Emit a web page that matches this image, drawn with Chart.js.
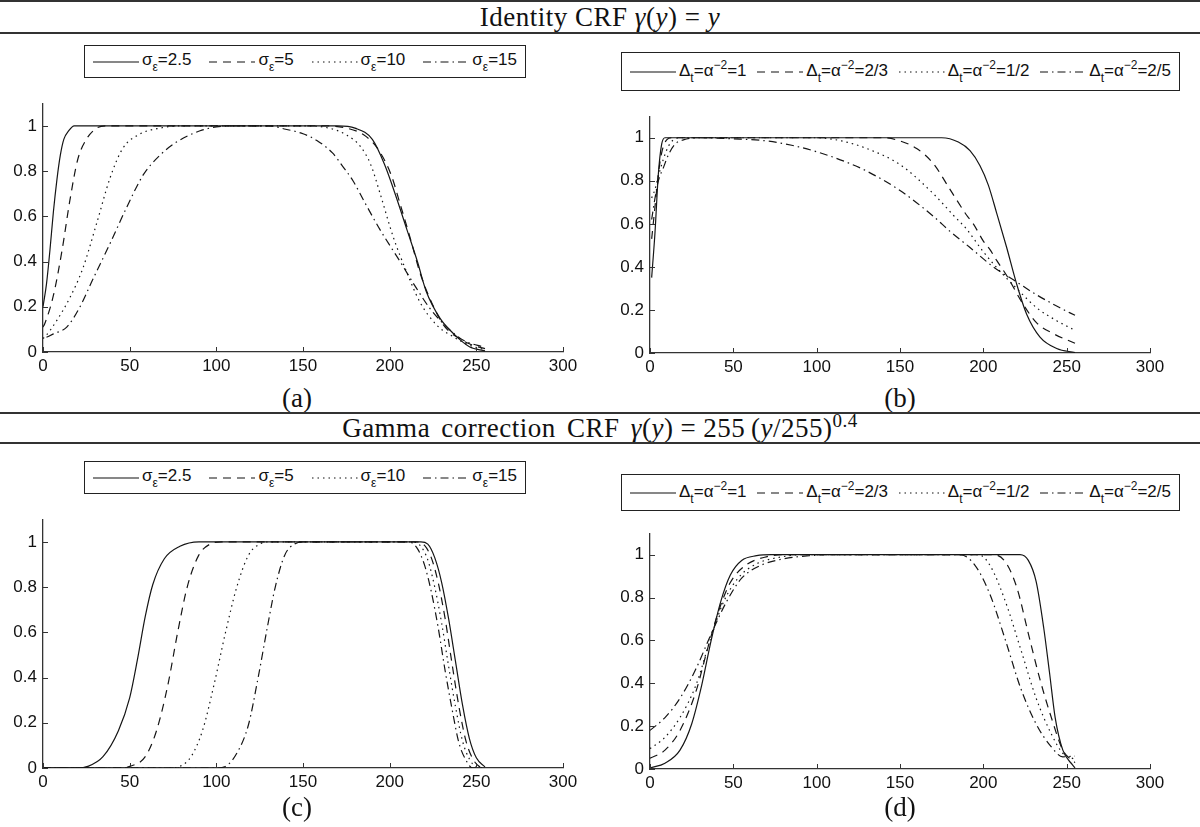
<!DOCTYPE html>
<html>
<head>
<meta charset="utf-8">
<script src="https://cdn.jsdelivr.net/npm/chart.js@4.4.1/dist/chart.umd.min.js"></script>
<style>
  body { margin: 0; background: #fff; }
  #page { position: relative; width: 1200px; height: 827px; overflow: hidden; font-family: "Liberation Sans", Arial, sans-serif; }
  .rule { position: absolute; left: 0; width: 1200px; background: #333; }
  .title { position: absolute; left: 0; width: 1200px; text-align: center; font-family: "Liberation Serif", "DejaVu Serif", serif; font-size: 27px; line-height: 28px; color: #111; letter-spacing: 0.5px; }
  .title sup { font-size: 19px; line-height: 0; vertical-align: 10px; }
  .cap { position: absolute; width: 100px; text-align: center; font-family: "Liberation Serif", "DejaVu Serif", serif; font-size: 27px; line-height: 28px; color: #111; }
  .legend { position: absolute; box-sizing: border-box; border: 1.5px solid #222; display: flex; align-items: center; justify-content: space-between; padding: 0 8px 0 8px; font-size: 17px; color: #111; }
  .item { display: flex; align-items: center; white-space: nowrap; }
  .item svg { margin-right: 3px; }
  .legend sub { font-size: 12px; vertical-align: -6px; }
  .legend sup { font-size: 12px; vertical-align: 7px; }
  canvas { position: absolute; }
</style>
</head>
<body>
<div id="page">
  <div class="rule" style="top:0;height:2px"></div>
  <div class="title" style="top:3px">Identity CRF <i>γ</i>(<i>y</i>) = <i>y</i></div>
  <div class="rule" style="top:32px;height:1.5px"></div>

  <div class="legend" id="legA" style="left:84px;top:45px;width:442px;height:33px"></div>
  <div class="legend" id="legB" style="left:621px;top:52px;width:559px;height:39px"></div>
  <canvas id="chartA" width="583" height="295" style="left:0;top:87px"></canvas>
  <canvas id="chartB" width="563" height="283" style="left:607px;top:100px"></canvas>
  <div class="cap" style="left:247px;top:384px">(a)</div>
  <div class="cap" style="left:850px;top:384px">(b)</div>

  <div class="rule" style="top:412px;height:2px"></div>
  <div class="title" style="top:414px;word-spacing:4px">Gamma correction CRF <i>γ</i>(<i>y</i>)<span style="margin:0 7px">=</span>255&thinsp;(<i>y</i>/255)<sup>0.4</sup></div>
  <div class="rule" style="top:442px;height:1.5px"></div>

  <div class="legend" id="legC" style="left:84px;top:461px;width:442px;height:33px"></div>
  <div class="legend" id="legD" style="left:621px;top:474px;width:559px;height:37px"></div>
  <canvas id="chartC" width="583" height="295" style="left:0;top:503px"></canvas>
  <canvas id="chartD" width="563" height="282" style="left:607px;top:517px"></canvas>
  <div class="cap" style="left:247px;top:793px">(c)</div>
  <div class="cap" style="left:850px;top:793px">(d)</div>
</div>

<script>
// axis ticks
const xTicks = [0, 50, 100, 150, 200, 250, 300];
const yTicks = [0, 0.2, 0.4, 0.6, 0.8, 1];

// legend labels
const sigmaLabels = ['2.5', '5', '10', '15'];
const deltaLabels = ['1', '2/3', '1/2', '2/5'];

// (a) identity CRF, sigma_eps = 2.5, 5, 10, 15   [x, y]
const a_s25 = [[0,0.2],[2,0.3],[4,0.45],[6,0.62],[8,0.76],[10,0.87],[12,0.94],[15,0.98],[18,1],[60,1],[120,1],[170,1],[180,0.99],[190,0.94],[197,0.83],[204,0.68],[210,0.54],[216,0.4],[221,0.27],[229,0.15],[237,0.08],[246,0.023],[255,0.005]];
const a_s5 = [[0,0.11],[1,0.125],[6,0.25],[11,0.45],[15.5,0.67],[20,0.85],[25,0.94],[31,0.99],[36,1],[100,1],[160,1],[175,0.99],[185,0.96],[193,0.9],[201,0.78],[206,0.655],[212,0.5],[217.5,0.35],[223,0.24],[231,0.12],[240,0.06],[248,0.03],[255,0.015]];
const a_s10 = [[0,0.06],[1,0.066],[8,0.14],[15.5,0.24],[23,0.37],[31,0.57],[38.7,0.77],[46,0.9],[56,0.964],[67.5,0.99],[80,1],[150,1],[165,0.99],[175,0.96],[183,0.91],[189,0.83],[194.5,0.7],[202,0.51],[210,0.35],[217.5,0.22],[227,0.12],[237,0.066],[246,0.03],[255,0.01]];
const a_s15 = [[2,0.065],[6,0.08],[13.7,0.11],[21,0.195],[29,0.325],[38.7,0.48],[48.3,0.64],[58,0.785],[67.5,0.87],[77,0.928],[90.6,0.978],[100,0.995],[110,1],[130,1],[140,0.985],[150,0.965],[158,0.935],[167,0.88],[173,0.82],[179,0.755],[185,0.67],[194.5,0.54],[206,0.4],[215.6,0.28],[223,0.195],[233,0.11],[242.5,0.052],[255,0.02]];

// (b) identity CRF, Delta_t = alpha^-2 = 1, 2/3, 1/2, 2/5
const b_d1 = [[1,0.35],[3,0.56],[5,0.83],[7,0.97],[9,1],[60,1],[120,1],[175,1],[185,0.98],[192,0.94],[198,0.87],[203,0.78],[208,0.65],[214,0.49],[220,0.32],[226,0.18],[234,0.074],[244,0.021],[255,0.002]];
const b_d23 = [[1,0.53],[3,0.68],[5,0.83],[7,0.93],[10,0.99],[13,1],[100,1],[140,1],[150,0.985],[160,0.95],[170,0.88],[180,0.76],[190,0.64],[194,0.6],[200,0.52],[204,0.48],[208,0.43],[214,0.36],[224,0.225],[232,0.14],[242,0.09],[255,0.045]];
const b_d12 = [[1,0.72],[3,0.76],[5,0.82],[8,0.9],[11,0.96],[14,0.99],[18,1],[100,1],[115,0.985],[130,0.95],[150,0.875],[170,0.74],[182,0.64],[190,0.575],[200,0.47],[210,0.38],[220,0.3],[232,0.21],[244,0.15],[255,0.105]];
const b_d25 = [[1,0.62],[3,0.72],[5,0.8],[8,0.86],[11,0.92],[15,0.97],[20,0.99],[30,1],[50,0.995],[70,0.985],[85,0.965],[100,0.935],[120,0.88],[130,0.845],[150,0.755],[170,0.635],[180,0.565],[192,0.49],[206,0.4],[220,0.33],[232,0.27],[246,0.21],[255,0.175]];

// (c) gamma CRF, sigma_eps = 2.5, 5, 10, 15
const c_s25 = [[0,0],[20,0],[25.8,0.007],[34.6,0.05],[43.5,0.165],[50,0.31],[54.5,0.48],[59,0.67],[63.3,0.81],[70,0.925],[79,0.98],[90,1],[150,1],[218,1],[222,0.99],[226,0.93],[230,0.82],[234,0.66],[238,0.47],[242,0.28],[246,0.13],[250,0.045],[255,0.005]];
const c_s5 = [[0,0],[45,0],[50,0.007],[59,0.05],[65.5,0.165],[72,0.366],[77.6,0.596],[83.2,0.8],[89.8,0.94],[96.4,0.99],[103,1],[150,1],[215,1],[220,0.985],[224,0.93],[228,0.82],[232,0.66],[236,0.46],[240,0.27],[244,0.12],[248,0.04],[252,0.005],[255,0]];
const c_s10 = [[0,0],[75,0],[79,0.007],[85.4,0.05],[92,0.165],[98.6,0.366],[105.2,0.596],[111.8,0.8],[118.5,0.94],[125,0.99],[131.7,1],[180,1],[213,1],[218,0.98],[222,0.92],[226,0.8],[230,0.64],[234,0.45],[238,0.27],[242,0.12],[246,0.04],[250,0.005],[255,0]];
const c_s15 = [[0,0],[100,0],[105.2,0.007],[111.8,0.065],[118.5,0.19],[124,0.395],[129.5,0.625],[134,0.8],[139.4,0.94],[145,0.99],[151.5,1],[190,1],[211,1],[216,0.97],[220,0.9],[224,0.78],[228,0.62],[232,0.43],[236,0.26],[240,0.11],[244,0.035],[248,0],[255,0]];

// (d) gamma CRF, Delta_t = alpha^-2 = 1, 2/3, 1/2, 2/5
const d_d1 = [[0,0.005],[9,0.027],[18,0.088],[25,0.21],[31,0.39],[36.7,0.6],[42.4,0.78],[48.2,0.905],[55,0.973],[64,0.995],[73,1],[150,1],[222,1],[227,0.973],[231.7,0.874],[236.2,0.66],[239.7,0.45],[243.1,0.24],[247.7,0.088],[253.4,0.02],[255,0.005]];
const d_d23 = [[0,0.05],[9,0.088],[18,0.18],[27.5,0.36],[34.4,0.557],[41.3,0.74],[48.2,0.87],[57.3,0.95],[68.8,0.988],[80,1],[150,1],[206,1],[213.3,0.965],[220.2,0.844],[227,0.632],[233.9,0.42],[240.8,0.24],[247.7,0.088],[255,0.03]];
const d_d12 = [[0,0.095],[9,0.148],[18,0.24],[27.5,0.39],[36.7,0.617],[43.6,0.77],[52.8,0.89],[64.2,0.958],[78,0.988],[92,1],[150,1],[197,1],[204,0.95],[213.3,0.78],[222.5,0.557],[231.7,0.33],[240.8,0.163],[247.7,0.073],[255,0.045]];
const d_d25 = [[0,0.18],[9,0.24],[18,0.33],[27.5,0.466],[36.7,0.63],[45.9,0.78],[55,0.89],[66.5,0.95],[80,0.98],[98.7,0.997],[105,1],[150,1],[186,1],[195,0.95],[204,0.814],[213.3,0.6],[222.5,0.375],[231.7,0.21],[240.8,0.103],[247.7,0.057],[255,0.06]];

// solid, dashed, dotted, dash-dot (matlab order)
const dashes = [[], [8, 6], [1.5, 4], [8, 4, 1.5, 4]];
const lineColor = '#151515';
const tickFont = { family: '"Liberation Sans", Arial, sans-serif', size: 17 };

// matlab style ticks pointing into the plot
const innerTicks = {
    id: 'innerTicks',
    afterDraw(chart) {
        const { ctx, chartArea, scales } = chart;
        ctx.save();
        ctx.strokeStyle = '#333';
        ctx.lineWidth = 1;
        xTicks.forEach(v => {
            const px = Math.round(scales.x.getPixelForValue(v)) + 0.5;
            ctx.beginPath();
            ctx.moveTo(px, chartArea.bottom);
            ctx.lineTo(px, chartArea.bottom - 5);
            ctx.stroke();
        });
        yTicks.forEach(v => {
            const py = Math.round(scales.y.getPixelForValue(v)) + 0.5;
            ctx.beginPath();
            ctx.moveTo(chartArea.left, py);
            ctx.lineTo(chartArea.left + 5, py);
            ctx.stroke();
        });
        ctx.restore();
    }
};

function makeChart(id, series) {
    new Chart(document.getElementById(id), {
        type: 'scatter',
        data: {
            datasets: series.map((pts, i) => ({
                data: pts.map(p => ({ x: p[0], y: p[1] })),
                showLine: true,
                borderColor: lineColor,
                borderWidth: 1.2,
                borderDash: dashes[i],
                pointRadius: 0,
                cubicInterpolationMode: 'monotone',
                fill: false
            }))
        },
        options: {
            responsive: false,
            animation: false,
            layout: { padding: { top: 10, right: 20, left: 0, bottom: 0 } },
            plugins: { legend: { display: false }, tooltip: { enabled: false } },
            scales: {
                x: {
                    type: 'linear',
                    min: 0,
                    max: 300,
                    afterBuildTicks: s => { s.ticks = xTicks.map(v => ({ value: v })); },
                    afterFit: s => { s.height = 30; },
                    ticks: { font: tickFont, color: '#111', padding: 4, maxRotation: 0, autoSkip: false },
                    grid: { display: false, drawTicks: false },
                    border: { display: true, color: '#333', width: 1.3 }
                },
                y: {
                    min: 0,
                    max: 1.1,
                    afterBuildTicks: s => { s.ticks = yTicks.map(v => ({ value: v })); },
                    afterFit: s => { s.width = 43; },
                    ticks: { font: tickFont, color: '#111', padding: 6, callback: v => String(+v.toFixed(1)) },
                    grid: { display: false, drawTicks: false },
                    border: { display: true, color: '#333', width: 1.3 }
                }
            }
        },
        plugins: [innerTicks]
    });
}

function legendLine(i) {
    return '<svg width="46" height="10"><line x1="0" y1="5" x2="46" y2="5" stroke="#111" stroke-width="1.2" stroke-dasharray="' +
        (dashes[i].length ? dashes[i].join(' ') : 'none') + '"/></svg>';
}

function makeLegend(id, labels, kind) {
    const box = document.getElementById(id);
    box.innerHTML = labels.map((lab, i) => {
        const text = kind === 'sigma'
            ? 'σ<sub>ε</sub>=' + lab
            : 'Δ<sub>t</sub>=α<sup>−2</sup>=' + lab;
        return '<span class="item">' + legendLine(i) + '<span>' + text + '</span></span>';
    }).join('');
}

makeLegend('legA', sigmaLabels, 'sigma');
makeLegend('legB', deltaLabels, 'delta');
makeLegend('legC', sigmaLabels, 'sigma');
makeLegend('legD', deltaLabels, 'delta');

makeChart('chartA', [a_s25, a_s5, a_s10, a_s15]);
makeChart('chartB', [b_d1, b_d23, b_d12, b_d25]);
makeChart('chartC', [c_s25, c_s5, c_s10, c_s15]);
makeChart('chartD', [d_d1, d_d23, d_d12, d_d25]);
</script>
</body>
</html>
